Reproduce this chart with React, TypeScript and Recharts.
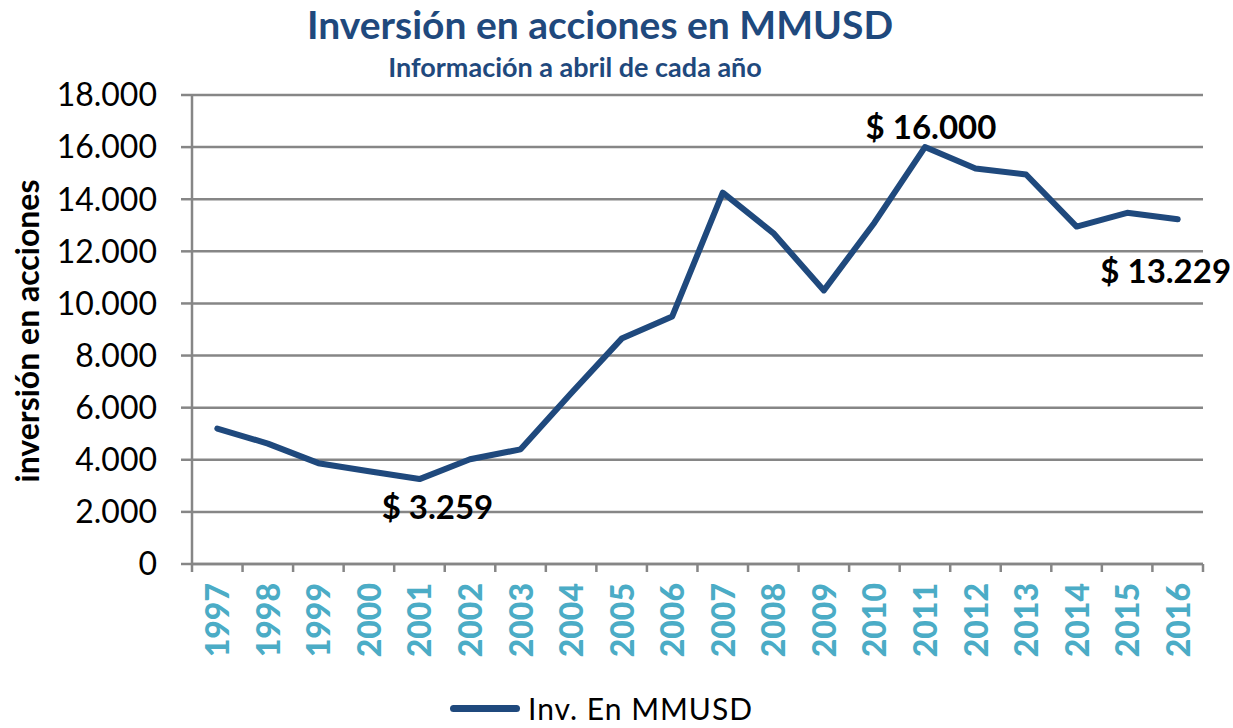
import { LineChart, Line, XAxis, YAxis, CartesianGrid, LabelList } from 'recharts'

const years = ['1997', '1998', '1999', '2000', '2001', '2002', '2003', '2004', '2005', '2006',
  '2007', '2008', '2009', '2010', '2011', '2012', '2013', '2014', '2015', '2016']
const investment = [5200, 4620, 3870, 3560, 3259, 4020, 4400, 6550, 8650, 9500,
  14250, 12700, 10500, 13100, 16000, 15180, 14950, 12950, 13480, 13229]
const yTicks = [0, 2000, 4000, 6000, 8000, 10000, 12000, 14000, 16000, 18000]
const labelledYears = ['2001', '2011', '2016']

const data = years.map((year, i) => ({ year, value: investment[i] }))

const BLUE = '#1F497D'
const GRID = '#868686'
const HALF_BAND = 25.3

const fmt = (v: number) => String(Math.round(v)).replace(/\B(?=(\d{3})+(?!\d))/g, '.')

function YearTick(props: any) {
  const { x, y, payload, index } = props
  const isLast = index === years.length - 1
  return (
    <g>
      <line x1={x - HALF_BAND} y1={y - 10} x2={x - HALF_BAND} y2={y - 2} stroke={GRID} strokeWidth={2.5} />
      {isLast && <line x1={x + HALF_BAND} y1={y - 10} x2={x + HALF_BAND} y2={y - 2} stroke={GRID} strokeWidth={2.5} />}
      <g transform={`translate(${x},${y + 9}) rotate(-90)`}>
        <text x={0} y={0} dy={12} textAnchor="end" fill="#4BACC6" fontSize={32} fontWeight={900} fontFamily="Lato">
          {payload.value}
        </text>
      </g>
    </g>
  )
}

function ValueLabel(props: any) {
  const { x, y, value, index } = props
  const year = years[index]
  if (!labelledYears.includes(year)) return null
  let dx = 0
  let dy = 0
  if (year === '2001') { dx = 18; dy = 40 }
  if (year === '2011') { dx = 6; dy = -8 }
  if (year === '2016') { dx = -12; dy = 64 }
  return (
    <text x={x + dx} y={y + dy} textAnchor="middle" fontSize={33} fontWeight={700} fill="#000" fontFamily="Lato">
      {'$ ' + fmt(value)}
    </text>
  )
}

function App() {
  return (
    <div style={{ position: 'absolute', left: 0, top: 0, width: 1233, height: 728, background: '#fff', fontFamily: 'Lato', overflow: 'hidden' }}>
      <div style={{ position: 'absolute', left: 0, top: 1, width: 1200, textAlign: 'center', fontSize: 39, fontWeight: 700, color: BLUE }}>
        Inversión en acciones en MMUSD
      </div>
      <div style={{ position: 'absolute', left: 0, top: 50, width: 1150, textAlign: 'center', fontSize: 27, fontWeight: 700, color: BLUE }}>
        Información a abril de cada año
      </div>
      <LineChart width={1233} height={728} data={data} margin={{ top: 95, right: 30, bottom: 44, left: 0 }}>
        <CartesianGrid horizontal={true} vertical={false} stroke={GRID} strokeWidth={2.5} />
        <XAxis
          dataKey="year"
          padding={{ left: HALF_BAND, right: HALF_BAND }}
          axisLine={{ stroke: GRID, strokeWidth: 2.5 }}
          tickLine={false}
          tick={<YearTick />}
          interval={0}
          height={120}
          tickSize={8}
          tickMargin={2}
        />
        <YAxis
          domain={[0, 18000]}
          ticks={yTicks}
          interval={0}
          tickFormatter={fmt}
          width={192}
          axisLine={{ stroke: GRID, strokeWidth: 2.5 }}
          tickLine={{ stroke: GRID, strokeWidth: 2.5 }}
          tickSize={11}
          tickMargin={24}
          tick={{ fill: '#000', fontSize: 32, fontFamily: 'Lato' }}
          label={{
            content: () => (
              <text transform="translate(39,331) rotate(-90)" textAnchor="middle" fontSize={32} fontWeight={700} fill="#000" fontFamily="Lato">
                inversión en acciones
              </text>
            ),
          }}
        />
        <Line
          type="linear"
          dataKey="value"
          stroke={BLUE}
          strokeWidth={6}
          dot={false}
          strokeLinejoin="round"
          strokeLinecap="round"
          isAnimationActive={false}
        >
          <LabelList dataKey="value" content={<ValueLabel />} />
        </Line>
      </LineChart>
      <div style={{ position: 'absolute', left: 450, top: 690, display: 'flex', alignItems: 'center' }}>
        <div style={{ width: 70, height: 7, borderRadius: 4, background: BLUE, marginRight: 8 }} />
        <span style={{ fontSize: 30, color: '#000', letterSpacing: 1 }}>Inv. En MMUSD</span>
      </div>
    </div>
  )
}

export default App
